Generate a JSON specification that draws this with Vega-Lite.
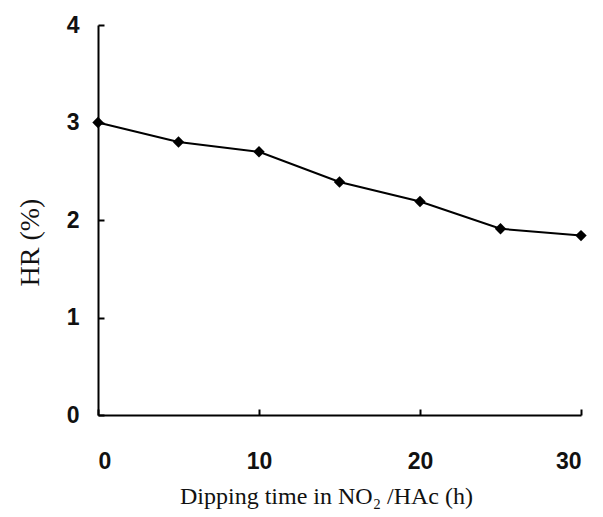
{
  "$schema": "https://vega.github.io/schema/vega-lite/v6.json",
  "width": 483,
  "height": 390,
  "autosize": "none",
  "padding": {"left": 98, "top": 25, "right": 22, "bottom": 102},
  "background": "white",
  "config": {"view": {"stroke": null}},
  "data": {"values": [
    {"t": 0, "hr": 3.0},
    {"t": 5, "hr": 2.8},
    {"t": 10, "hr": 2.7},
    {"t": 15, "hr": 2.39},
    {"t": 20, "hr": 2.19},
    {"t": 25, "hr": 1.91},
    {"t": 30, "hr": 1.84}
  ]},
  "encoding": {
    "x": {"field": "t", "type": "quantitative",
      "scale": {"domain": [0, 30], "nice": false, "zero": false},
      "axis": {"values": [0, 10, 20, 30], "title": "Dipping time in NO₂ /HAc (h)",
        "grid": false, "domainColor": "black", "domainWidth": 2, "tickColor": "black", "tickWidth": 2,
        "tickSize": -6, "labelPadding": 41, "labelFont": "Liberation Sans", "labelFontSize": 23,
        "labelFontWeight": "bold", "labelColor": "#111",
        "titleFont": "Liberation Serif", "titleFontSize": 24, "titleFontWeight": "normal", "titleColor": "#111",
        "titleX": 228, "titleY": 81, "titleBaseline": "middle", "titleAlign": "center"}},
    "y": {"field": "hr", "type": "quantitative",
      "scale": {"domain": [0, 4], "nice": false},
      "axis": {"values": [0, 1, 2, 3, 4], "title": "HR (%)",
        "grid": false, "domainColor": "black", "domainWidth": 2, "tickColor": "black", "tickWidth": 2,
        "tickSize": -6, "labelPadding": 25, "labelFont": "Liberation Sans", "labelFontSize": 23,
        "labelFontWeight": "bold", "labelColor": "#111",
        "titleFont": "Liberation Serif", "titleFontSize": 28, "titleFontWeight": "normal", "titleColor": "#111",
        "titleX": -68, "titleY": 217, "titleBaseline": "middle", "titleAlign": "center"}}
  },
  "layer": [
    {"mark": {"type": "line", "color": "black", "strokeWidth": 2}},
    {"mark": {"type": "point", "shape": "diamond", "filled": true, "color": "black", "size": 130, "opacity": 1}}
  ]
}
